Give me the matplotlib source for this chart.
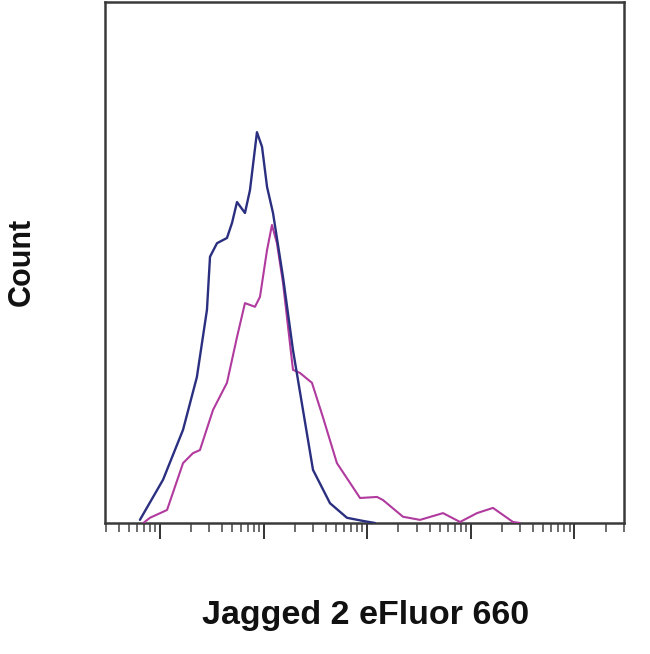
import matplotlib
matplotlib.use("Agg")
import matplotlib.pyplot as plt
from matplotlib.ticker import LogLocator, NullFormatter

# Fluorescence intensity (log scale) and counts (% of y-range)
blue_x = [64, 107, 167, 227, 284, 304, 355, 443, 496, 554, 661, 739, 863, 966,
          1080, 1233, 1540, 1922, 2400, 2999, 4375, 6383, 9100, 11880]
blue_y = [0.6, 8.3, 17.9, 28.0, 40.9, 51.1, 53.7, 54.7, 57.6, 61.6, 59.5, 63.9,
          75.0, 72.2, 64.5, 59.5, 47.2, 33.2, 21.7, 10.2, 3.8, 1.0, 0.4, 0.0]

mag_x = [69, 80, 117, 167, 208, 243, 325, 443, 554, 661, 826, 923, 1080, 1205,
         1346, 1540, 1922, 2245, 2931, 3741, 5102, 8531, 12450, 14220, 22180,
         32360, 53950, 78750, 114900, 163800, 255400, 298400]
mag_y = [0.0, 1.0, 2.5, 11.5, 13.4, 14.0, 21.7, 26.9, 35.7, 42.2, 41.5, 43.4,
         52.4, 57.2, 53.7, 46.1, 29.4, 28.8, 26.9, 20.3, 11.5, 4.8, 5.0, 4.4,
         1.2, 0.6, 1.9, 0.2, 1.9, 2.9, 0.2, 0.0]

x_label = "Jagged 2 eFluor 660"
y_label = "Count"

fig = plt.figure(figsize=(6.5, 6.54), dpi=100)
ax = fig.add_axes([0.1615, 0.2003, 0.7985, 0.7967])

ax.plot(mag_x, mag_y, color="#b03a9e", lw=1.5, zorder=3,
        solid_joinstyle="round", solid_capstyle="round")
ax.plot(blue_x, blue_y, color="#2b2f80", lw=1.7, zorder=4,
        solid_joinstyle="round", solid_capstyle="round")

ax.set_xscale("log")
ax.set_xlim(10 ** 1.469, 10 ** 6.479)
ax.set_ylim(0, 100)

ax.xaxis.set_major_locator(LogLocator(base=10, numticks=20))
ax.xaxis.set_minor_locator(LogLocator(base=10, subs=range(2, 10), numticks=100))
ax.xaxis.set_major_formatter(NullFormatter())
ax.xaxis.set_minor_formatter(NullFormatter())
ax.tick_params(axis="x", which="major", direction="out", length=11.5, width=1.4, color="#333333")
ax.tick_params(axis="x", which="minor", direction="out", length=6.5, width=1.1, color="#444444")
ax.set_yticks([])

for s in ax.spines.values():
    s.set_color("#3a3a3a")
    s.set_linewidth(1.8)

font = ["Liberation Sans", "DejaVu Sans"]
fig.text(0.5631, 0.0596, x_label, ha="center", va="center", fontsize=24.5,
         fontweight="bold", family=font, color="#111111")
fig.text(0.034, 0.599, y_label, ha="center", va="center", rotation=90,
         fontsize=22, fontweight="bold", family=font, color="#111111")

fig.savefig("out.png", dpi=100)
